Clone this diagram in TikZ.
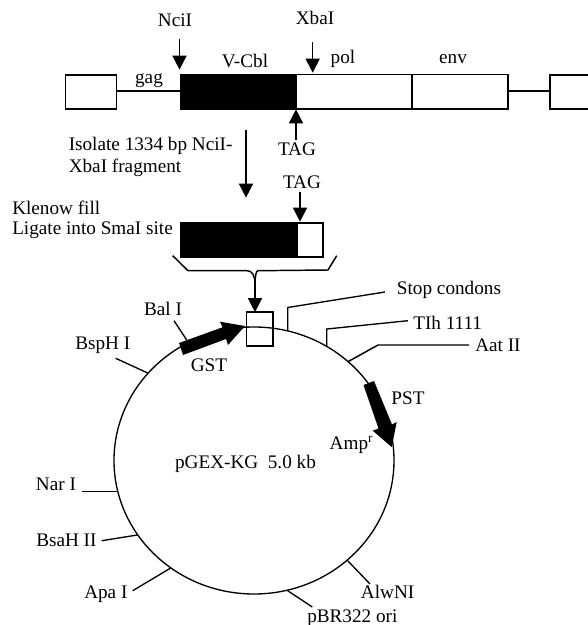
\documentclass[tikz,border=0pt]{standalone}
\usepackage{fontspec}
\setmainfont{Liberation Serif}
\usetikzlibrary{arrows.meta,shapes.geometric}
\tikzset{
 x=0.75pt,y=-0.75pt,
 lab/.style={inner sep=0pt,font=\fontsize{14.4pt}{16pt}\selectfont,anchor=center},
 labw/.style={lab,anchor=west},
 box/.style={draw,line width=1.1pt,fill=white},
 ln/.style={line width=1.1pt},
 tick/.style={line width=1pt},
 arr/.style={line width=1.1pt,-{Triangle[length=10.5pt,width=10.5pt]},shorten >=-0.5pt},
}
\begin{document}
\begin{tikzpicture}
\useasboundingbox (0,0) rectangle (587,625);
% top construct
\coordinate (ltrE) at (116.5,91);
\coordinate (vcblW) at (179.5,91);
\coordinate (envE) at (508,91);
\coordinate (rtrW) at (550,91);
\draw[ln] (ltrE) -- (vcblW);
\draw[ln] (envE) -- (rtrW);
\draw[box] (65.5,75) rectangle (116.5,109);
\draw[box] (550,75) rectangle (590,109);
\draw[box] (296.5,74.5) rectangle (412,109);
\draw[box] (412,74.5) rectangle (508,109);
\fill (179.5,74) rectangle (296.5,109.5);
\node[lab] (nci) at (175,20) {NciI};
\node[lab] (xba) at (315,18) {XbaI};
\node[lab] (vcbl) at (245,61) {V-Cbl};
\node[lab] (pol) at (343,59) {pol};
\node[lab] (env) at (453,59) {env};
\node[lab] (gag) at (149,81) {gag};
\coordinate (nciS) at (179.5,39); \coordinate (nciE) at (179.5,69);
\coordinate (xbaS) at (312.7,42); \coordinate (xbaE) at (312.7,72);
\coordinate (tagS) at (296,140); \coordinate (tagE) at (296,110);
\coordinate (isoS) at (246,130); \coordinate (isoE) at (246,197);
\draw[arr] (nciS) -- (nciE);
\draw[arr] (xbaS) -- (xbaE);
\draw[arr] (tagS) -- (tagE);
\draw[arr] (isoS) -- (isoE);
\node[lab] (tag1) at (297,149) {TAG};
\node[labw] (iso1) at (68.5,146) {Isolate 1334 bp NciI-};
\node[labw] (iso2) at (68.5,168) {XbaI fragment};
\node[lab] (tag2) at (302,182) {TAG};
\node[labw] (kle1) at (12,208) {Klenow fill};
\node[labw] (kle2) at (12,230) {Ligate into SmaI site};
% insert
\coordinate (tag2S) at (300,192); \coordinate (tag2E) at (300,221);
\draw[box] (297,223) rectangle (323,257);
\fill (180,222) rectangle (297.5,257.5);
\draw[arr] (tag2S) -- (tag2E);
% bracket
\coordinate (brA) at (172.7,255.7);
\coordinate (brB) at (188,270.7);
\coordinate (brC) at (247,270.7);
\coordinate (brD) at (255,284);
\coordinate (brE) at (258,270.7);
\coordinate (brF) at (328,270);
\coordinate (brG) at (336.7,255.7);
\coordinate (brH) at (255,311.5);
\draw[ln] (brA) -- (brB) -- (brC) .. controls (252,270.7) and (255,275) .. (brD);
\draw[ln] (brG) -- (brF) -- (brE) .. controls (256.5,270.7) and (255,275) .. (brD);
\draw[arr] (brD) -- (brH);
% plasmid
\node[draw,line width=1pt,ellipse,minimum width=210pt,minimum height=200.25pt,inner sep=0pt,outer sep=0pt] (plasmid) at (254,460.5) {};
\node[lab] (pgex) at (245.5,464) {pGEX-KG\ \ 5.0 kb};
\draw[line width=1pt] (246.3,312) rectangle (273,346);
% GST
\fill (179,343) -- (222.5,327.3) -- (220,321.7) -- (245,326) -- (228,345) -- (226,339) -- (183,355) -- cycle;
\node[lab] (gst) at (209,365) {GST};
% PST
\fill (363.5,385) -- (374,381) -- (392,424.5) -- (396.7,422) -- (391.7,447) -- (372.7,430.7) -- (378.5,428.5) -- cycle;
\node[lab] (pst) at (408,398) {PST};
\node[lab] (amp) at (351.5,445) {Amp\textsuperscript{r}};
% ticks
\coordinate (stA) at (287.7,331); \coordinate (stB) at (287.7,307.5); \coordinate (stC) at (385,292);
\node[labw] (stop) at (396.7,290) {Stop condons};
\draw[tick] (stA) -- (stB) -- (stC);
\coordinate (tiA) at (326.7,346); \coordinate (tiB) at (326.7,329); \coordinate (tiC) at (408,320.7);
\node[labw] (tih) at (413,323) {TIh 1111};
\draw[tick] (tiA) -- (tiB) -- (tiC);
\coordinate (aaA) at (348,361.7); \coordinate (aaB) at (378,345); \coordinate (aaC) at (469,345);
\node[labw] (aat) at (475,345) {Aat II};
\draw[ln] (aaA) -- (aaB) -- (aaC);
\coordinate (baA) at (186.7,340); \coordinate (baB) at (174,320.7);
\node[lab] (bal) at (163,309) {Bal I};
\draw[tick] (baA) -- (baB);
\coordinate (bsA) at (147.7,373); \coordinate (bsB) at (115.7,358.3);
\node[labw] (bsp) at (75,345) {BspH I};
\draw[tick] (bsA) -- (bsB);
\coordinate (naA) at (117.3,491.7); \coordinate (naB) at (82.3,491.7);
\node[labw] (nar) at (35.7,484) {Nar I};
\draw[ln] (naA) -- (naB);
\coordinate (bhA) at (137.3,535); \coordinate (bhB) at (101.7,540.7);
\node[labw] (bsah) at (36,540.7) {BsaH II};
\draw[tick] (bhA) -- (bhB);
\coordinate (apA) at (170.7,568); \coordinate (apB) at (132.7,590.7);
\node[labw] (apa) at (84,594) {Apa I};
\draw[tick] (apA) -- (apB);
\coordinate (alA) at (347.7,560.7); \coordinate (alB) at (370,584);
\node[labw] (alw) at (360.7,592) {AlwNI};
\draw[tick] (alA) -- (alB);
\coordinate (poA) at (287.7,590.7); \coordinate (poB) at (312.3,607);
\node[labw] (pbr) at (307,618) {pBR322 ori};
\draw[tick] (poA) -- (poB);
\end{tikzpicture}
\end{document}
